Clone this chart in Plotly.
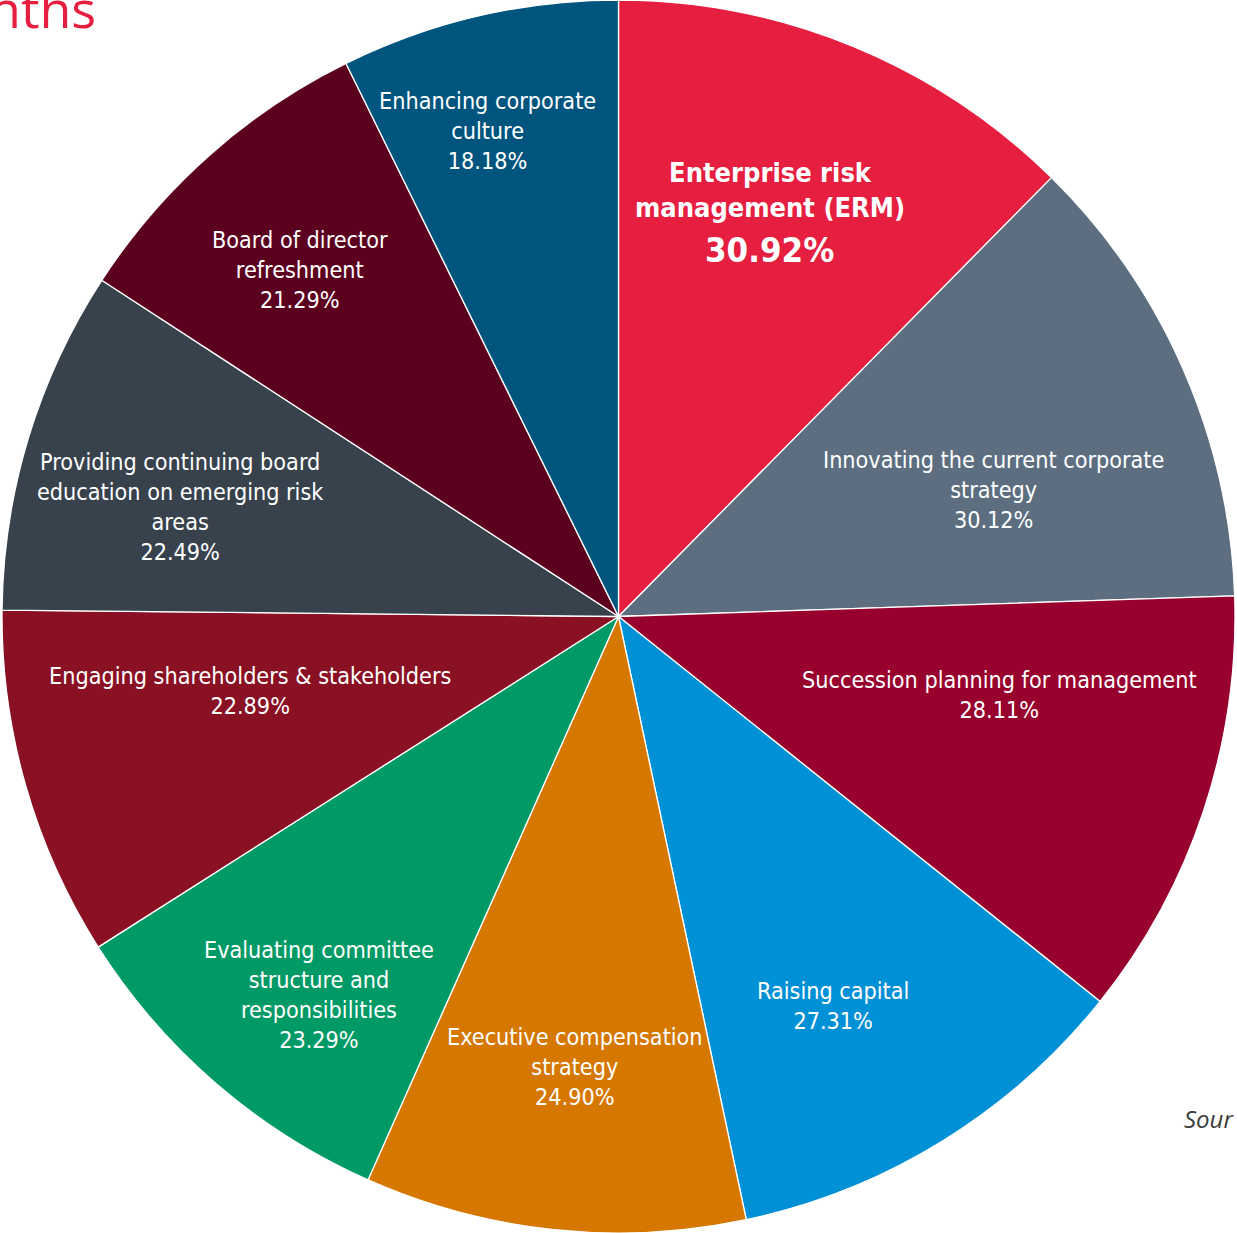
import math
import plotly.graph_objects as go

categories = [
    "Enterprise risk management (ERM)",
    "Innovating the current corporate strategy",
    "Succession planning for management",
    "Raising capital",
    "Executive compensation strategy",
    "Evaluating committee structure and responsibilities",
    "Engaging shareholders & stakeholders",
    "Providing continuing board education on emerging risk areas",
    "Board of director refreshment",
    "Enhancing corporate culture",
]
display_labels = [
    "Enterprise risk<br>management (ERM)",
    "Innovating the current corporate<br>strategy",
    "Succession planning for management",
    "Raising capital",
    "Executive compensation<br>strategy",
    "Evaluating committee<br>structure and<br>responsibilities",
    "Engaging shareholders & stakeholders",
    "Providing continuing board<br>education on emerging risk<br>areas",
    "Board of director<br>refreshment",
    "Enhancing corporate<br>culture",
]
values = [30.92, 30.12, 28.11, 27.31, 24.90, 23.29, 22.89, 22.49, 21.29, 18.18]
colors = ["#E61E3F", "#5C6E80", "#98002E", "#0090D5", "#D67800",
          "#009A66", "#8A1024", "#37424D", "#5C001F", "#00557F"]

# label placement (style): fraction of radius and angular nudge (deg) from slice middle
label_rfrac = [0.70, 0.643, 0.631, 0.720, 0.733, 0.782, 0.610, 0.733, 0.764, 0.816]
label_dang = [-1.8, 4.9, -6.8, 2.8, -0.5, -2.4, 4.5, -2.8, -0.9, -2.0]

W, H = 1237, 1233
FONT = "DejaVu Sans Condensed, DejaVu Sans"

fig = go.Figure(go.Pie(
    labels=categories,
    values=values,
    textinfo="none",
    marker=dict(colors=colors, line=dict(color="white", width=1.3)),
    sort=False,
    direction="clockwise",
    rotation=0,
    showlegend=False,
    hoverinfo="label+value",
    domain=dict(x=[0, 1], y=[0, 1]),
))

total = sum(values)
R = min(W, H) / 2.0
cum = 0.0
for i, (lab, v) in enumerate(zip(display_labels, values)):
    mid = (cum + v / 2.0) / total * 360.0
    cum += v
    ang = math.radians(mid + label_dang[i])
    dx = label_rfrac[i] * R * math.sin(ang)
    dy = label_rfrac[i] * R * math.cos(ang)
    xp = 0.5 + dx / W
    yp = 0.5 + dy / H
    if i == 0:
        fig.add_annotation(text="<b>" + lab + "</b>", x=xp, y=yp, xref="paper", yref="paper",
                           xanchor="center", yanchor="middle", showarrow=False, yshift=22,
                           font=dict(family=FONT, size=27, color="white"))
        fig.add_annotation(text="<b>%.2f%%</b>" % v, x=xp, y=yp, xref="paper", yref="paper",
                           xanchor="center", yanchor="middle", showarrow=False, yshift=-38,
                           font=dict(family=FONT, size=34.5, color="white"))
    else:
        fig.add_annotation(text=lab + "<br>%.2f%%" % v, x=xp, y=yp, xref="paper", yref="paper",
                           xanchor="center", yanchor="middle", showarrow=False,
                           font=dict(family=FONT, size=23.2, color="white"))

fig.add_annotation(text="nths", xref="paper", yref="paper", x=98 / W, y=1 - 8 / H,
                   xanchor="right", yanchor="middle", showarrow=False,
                   font=dict(family="Open Sans", size=52, color="#E61E3F"))
fig.add_annotation(text="<i>Sour</i>", xref="paper", yref="paper", x=1182 / W, y=1 - 1118 / H,
                   xanchor="left", yanchor="middle", showarrow=False,
                   font=dict(family="Open Sans", size=24, color="#3C3C3C"))

fig.update_layout(width=W, height=H, margin=dict(l=0, r=0, t=0, b=0),
                  paper_bgcolor="white", plot_bgcolor="white")
fig.write_html("out.html")
